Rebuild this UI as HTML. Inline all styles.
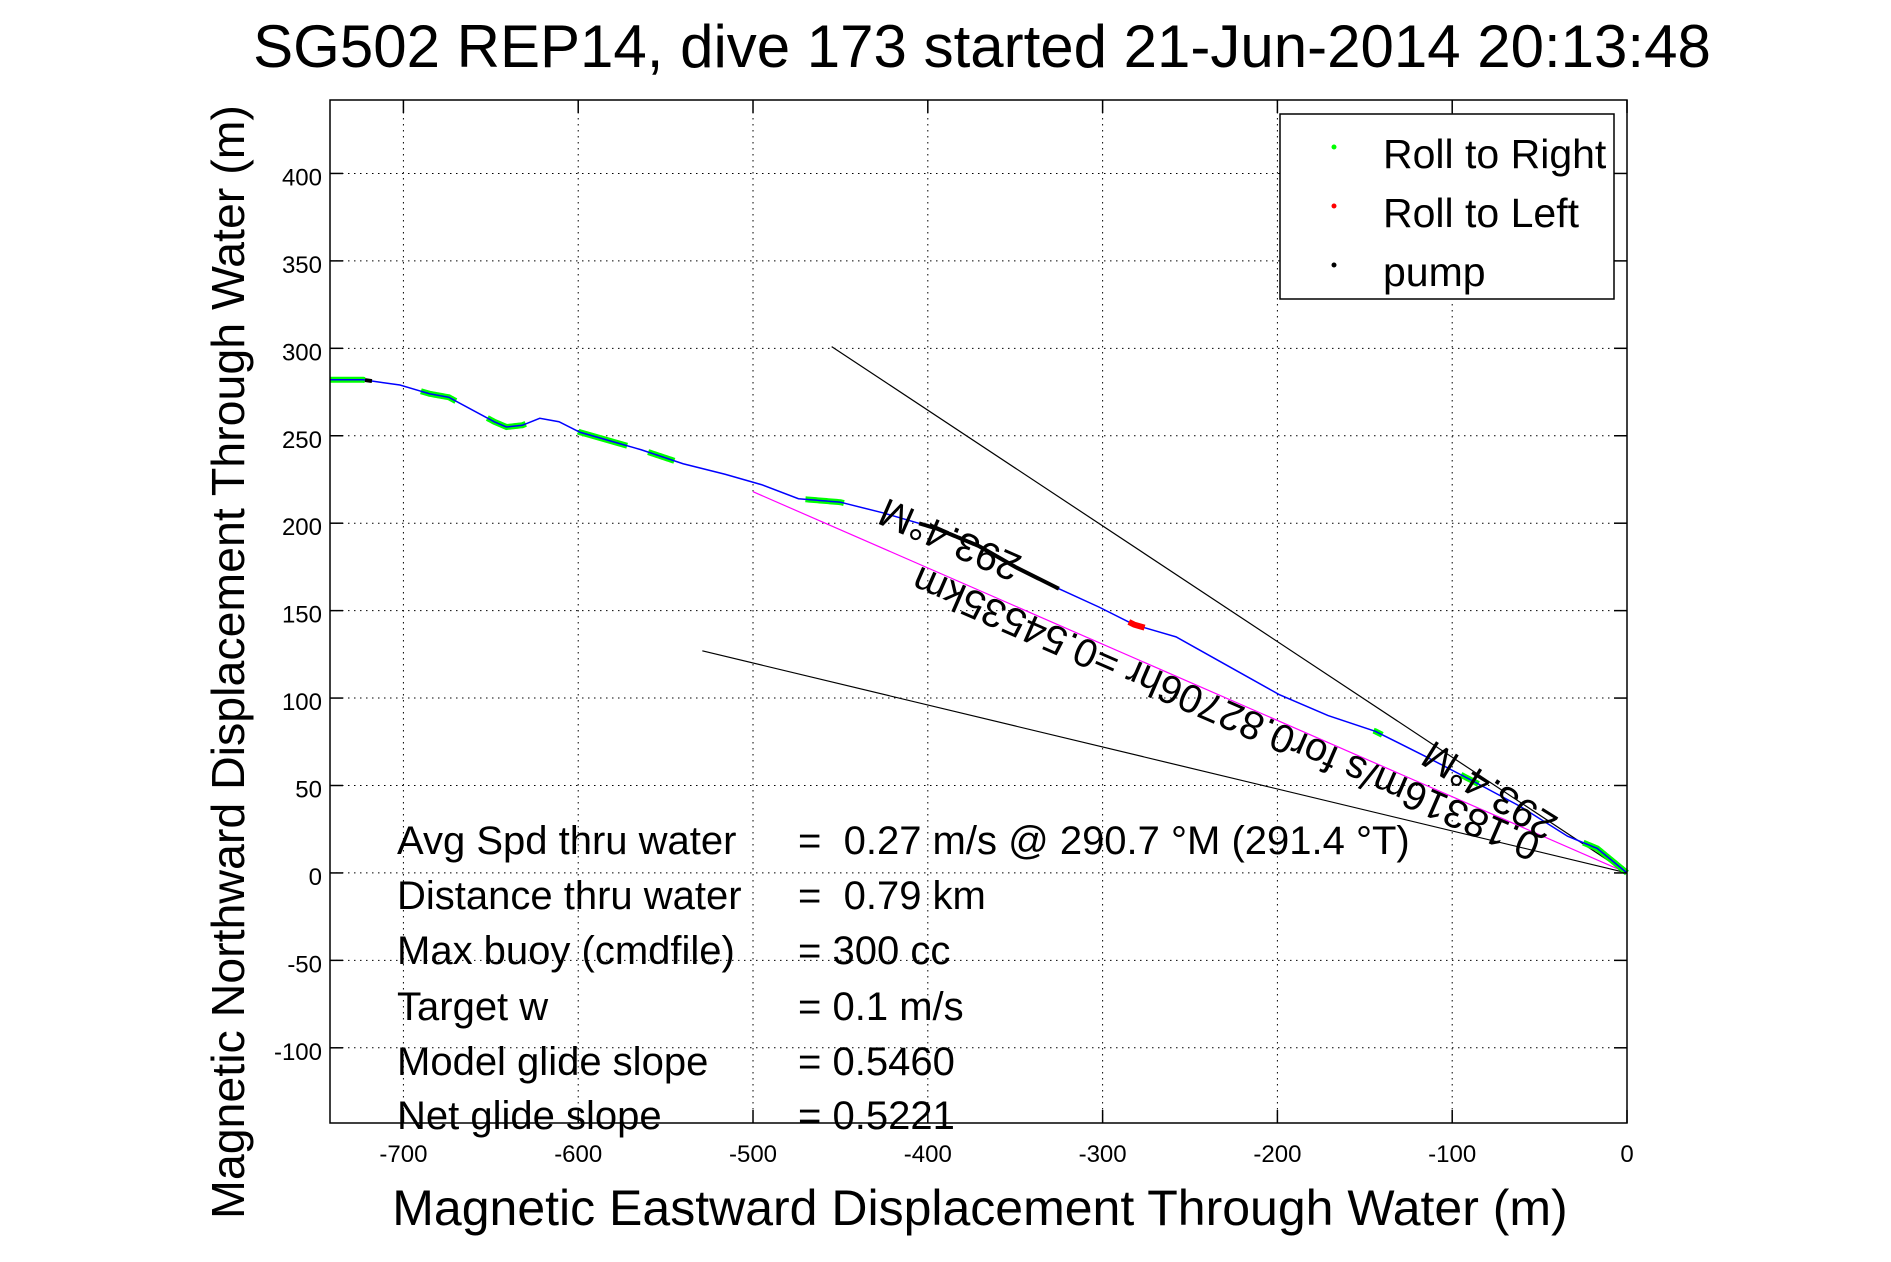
<!DOCTYPE html>
<html><head><meta charset="utf-8"><style>
html,body{margin:0;padding:0;background:#fff;}
svg{display:block;font-family:"Liberation Sans",sans-serif;}
</style></head><body>
<svg id="chart" width="1891" height="1262" xmlns="http://www.w3.org/2000/svg">
<rect width="1891" height="1262" fill="#fff"/>
<g id="grid"></g>
<g id="plot"></g>
<g id="axes"></g>
<text x="982" y="67" font-size="60" text-anchor="middle">SG502 REP14, dive 173 started 21-Jun-2014 20:13:48</text>
<text x="980" y="1225" font-size="50" text-anchor="middle">Magnetic Eastward Displacement Through Water (m)</text>
<text transform="translate(244,662) rotate(-90)" font-size="46.5" text-anchor="middle">Magnetic Northward Displacement Through Water (m)</text>
<g>
<rect x="1280" y="114" width="334" height="185" fill="#fff" stroke="#000" stroke-width="1.5"/>
<g><circle cx="1334" cy="147" r="2.5" fill="#0f0"/><text x="1383" y="168" font-size="41">Roll to Right</text></g>
<g><circle cx="1334" cy="206" r="2.5" fill="#f00"/><text x="1383" y="227" font-size="41">Roll to Left</text></g>
<g><circle cx="1334" cy="265" r="2.5" fill="#000"/><text x="1383" y="286" font-size="41">pump</text></g>
</g>
<g font-size="40">
<text x="397" y="854">Avg Spd thru water</text><text x="798" y="854" xml:space="preserve">=  0.27 m/s @ 290.7 °M (291.4 °T)</text>
<text x="397" y="909">Distance thru water</text><text x="798" y="909" xml:space="preserve">=  0.79 km</text>
<text x="397" y="964">Max buoy (cmdfile)</text><text x="798" y="964">= 300 cc</text>
<text x="397" y="1020">Target w</text><text x="798" y="1020">= 0.1 m/s</text>
<text x="397" y="1075">Model glide slope</text><text x="798" y="1075">= 0.5460</text>
<text x="397" y="1129">Net glide slope</text><text x="798" y="1129">= 0.5221</text>
</g>
<g font-size="40">
<text transform="translate(1227,711) rotate(203.5)" text-anchor="middle" dominant-baseline="middle">0.18316m/s for0.82706hr =0.54535km</text>
<text transform="translate(951,537) rotate(203.5)" text-anchor="middle" dominant-baseline="middle">293.4°M</text>
<text transform="translate(1491,788) rotate(212)" text-anchor="middle" dominant-baseline="middle">293.4°M</text>
</g>
</svg>
<script>
const xTicks=[-700,-600,-500,-400,-300,-200,-100,0];
const yTicks=[-100,-50,0,50,100,150,200,250,300,350,400];
const trackX=[-742,-723,-702,-685,-674,-648,-641,-632,-622,-611,-599,-585,-564,-540,-516,-495,-474,-450,-426,-395,-371,-350,-326,-302,-282,-258,-233,-199,-171,-144,-116,-89,-61,-34,-17,0];
const trackY=[282,282,279,274,272,258,255,256,260,258,252,248,242,234,228,222,214,212,206,197,187,175,163,152,142,135,121,102,90,81,67,53,38,21,14,0];
const rollRightRanges=[[-742,-722],[-690,-670],[-652,-630],[-600,-572],[-560,-545],[-470,-448],[-145,-140],[-95,-85],[-25,0]];
const rollLeftRanges=[[-285,-276]];
const pumpRanges=[[-722,-718],[-405,-325]];
const magentaLine=[[-500,218],[0,0]];
const blackLine1=[[-455,301],[0,0]];
const blackLine2=[[-529,127],[0,0]];
const X0=330,X1=1627,Y0=100,Y1=1123,xmin=-742,xmax=0,ymin=-143,ymax=442;
const sx=v=>X0+(v-xmin)/(xmax-xmin)*(X1-X0);
const sy=v=>Y1-(v-ymin)/(ymax-ymin)*(Y1-Y0);
const NS='http://www.w3.org/2000/svg';
function mk(t,a,p){const e=document.createElementNS(NS,t);for(const k in a)e.setAttribute(k,a[k]);p.appendChild(e);return e;}
const grid=document.getElementById('grid'),plot=document.getElementById('plot'),axes=document.getElementById('axes');
xTicks.forEach(t=>{const x=sx(t);
 const g=mk('line',{x1:x,y1:Y0,x2:x,y2:Y1,stroke:'#000','stroke-width':1,'stroke-dasharray':'1.5,4.5'},grid);
 
 
 mk('line',{x1:x,y1:Y0,x2:x,y2:Y0+13,stroke:'#000','stroke-width':1.5},axes);
 mk('line',{x1:x,y1:Y1,x2:x,y2:Y1-13,stroke:'#000','stroke-width':1.5},axes);
 const l=mk('text',{x:x,y:1162,'font-size':24,'text-anchor':'middle'},axes);l.textContent=t;
 
 });
yTicks.forEach(t=>{const y=sy(t);
 const g=mk('line',{x1:X0,y1:y,x2:X1,y2:y,stroke:'#000','stroke-width':1,'stroke-dasharray':'1.5,4.5'},grid);
 
 
 mk('line',{x1:X0,y1:y,x2:X0+13,y2:y,stroke:'#000','stroke-width':1.5},axes);
 mk('line',{x1:X1,y1:y,x2:X1-13,y2:y,stroke:'#000','stroke-width':1.5},axes);
 const l=mk('text',{x:X0-8,y:y+12,'font-size':24,'text-anchor':'end'},axes);l.textContent=t;
 
 });
const box=mk('rect',{x:X0,y:Y0,width:X1-X0,height:Y1-Y0,fill:'none',stroke:'#000','stroke-width':1.5},axes);


function ln(pts,c,n){const e=mk('line',{x1:sx(pts[0][0]),y1:sy(pts[0][1]),x2:sx(pts[1][0]),y2:sy(pts[1][1]),stroke:c,'stroke-width':1.2},plot);
 
 }
ln(blackLine1,'#000','bound-line-upper');ln(blackLine2,'#000','bound-line-lower');ln(magentaLine,'#f0f','net-displacement-line');
const tr=mk('polyline',{points:trackX.map((x,i)=>sx(x)+','+sy(trackY[i])).join(' '),fill:'none',stroke:'#00f','stroke-width':1.5},plot);


function yAt(x){for(let i=0;i<trackX.length-1;i++){if(x>=trackX[i]&&x<=trackX[i+1]){const f=(x-trackX[i])/(trackX[i+1]-trackX[i]||1);return trackY[i]+f*(trackY[i+1]-trackY[i]);}}return 0;}
function seg(ranges,c,w,n){ranges.forEach(r=>{const pts=[];for(let x=r[0];x<=r[1];x+=1)pts.push(sx(x)+','+sy(yAt(x)));
 const e=mk('polyline',{points:pts.join(' '),fill:'none',stroke:c,'stroke-width':w},plot);
 
 });}
seg(rollRightRanges,'#0f0',6,'roll-right-points');seg(rollLeftRanges,'#f00',6,'roll-left-points');seg(pumpRanges,'#000',4,'pump-points');
seg(rollRightRanges,'#00f',1.5,'track-overlay');
</script>
</body></html>
